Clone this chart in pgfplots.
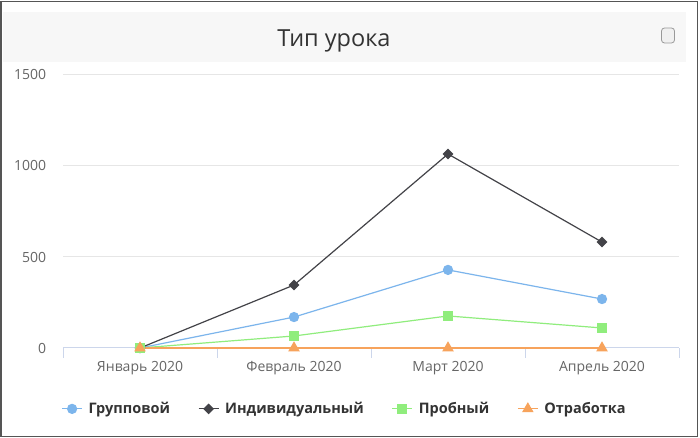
\documentclass[border=0pt]{standalone}
\usepackage{fontspec}
\setmainfont{Open Sans}
\usepackage{pgfplots}
\pgfplotsset{compat=1.18}
\definecolor{cgroup}{HTML}{7CB5EC}
\definecolor{cind}{HTML}{434348}
\definecolor{ctrial}{HTML}{90ED7D}
\definecolor{cotr}{HTML}{F7A35C}
\definecolor{band}{HTML}{F7F7F7}
\definecolor{gridc}{HTML}{E6E6E6}
\definecolor{axc}{HTML}{CCD6EB}
\definecolor{tickc}{HTML}{666666}
\definecolor{titlec}{HTML}{333333}
\definecolor{framec}{HTML}{555555}
\begin{document}
\begin{tikzpicture}[x=1bp,y=1bp]
\useasboundingbox (0,0) rectangle (700,438);
\fill[white] (0,0) rectangle (700,438);
\fill[band] (3,376) rectangle (686,426);
\draw[framec, line width=1.2bp] (1,1.5) rectangle (697.5,436.5);
\node[text=titlec, font=\fontsize{23.5bp}{26bp}\selectfont] at (334,397.5) {Тип урока};
\draw[rounded corners=3bp, draw=gray!80, fill=gray!12, line width=0.8bp] (661.5,395) rectangle (674.5,410);
\begin{axis}[
  at={(63bp,90bp)}, anchor=south west,
  scale only axis, width=616bp, height=273bp,
  xmin=-0.5, xmax=3.5, ymin=0, ymax=1500,
  axis lines*=left,
  x axis line style={-, draw=axc, line width=1bp},
  y axis line style={draw=none},
  xtick={0,1,2,3},
  xticklabels={Январь 2020, Февраль 2020, Март 2020, Апрель 2020},
  minor xtick={-0.5,0.5,1.5,2.5,3.5},
  tick align=outside,
  major x tick style={draw=none},
  minor x tick style={draw=axc, line width=1bp},
  minor tick length=10bp,
  ytick={0,500,1000,1500},
  major y tick style={draw=none},
  ymajorgrids,
  grid style={draw=gridc, line width=1bp},
  tick label style={text=tickc, font=\fontsize{14bp}{16bp}\selectfont},
  xticklabel style={yshift=-6bp},
  yticklabel style={xshift=-9bp},
  /pgf/number format/assume math mode=true,
  /pgf/number format/1000 sep={},
  clip=false,
  legend columns=4,
  legend image code/.code={\draw[mark repeat=2, mark phase=2] plot coordinates {(0bp,0bp) (10bp,0bp) (20bp,0bp)};},
  legend style={draw=none, fill=none, at={(0.457,-0.223)}, anchor=center,
    font=\bfseries\fontsize{14.5bp}{16bp}\selectfont, text=titlec,
    /tikz/every odd column/.append style={column sep=4bp},
    /tikz/every even column/.append style={column sep=26bp}},
]
\addplot[cgroup, line width=1.2bp, mark=*, mark size=4.5bp, mark options={solid, fill=cgroup, draw=cgroup}]
  coordinates {(0,0) (1,170) (2,429) (3,269)};
\addlegendentry{Групповой}
\addplot[cind, line width=1.2bp, mark=square*, mark size=3.2bp, mark options={solid, rotate=45, fill=cind, draw=cind}]
  coordinates {(0,0) (1,346) (2,1066) (3,582)};
\addlegendentry{Индивидуальный}
\addplot[ctrial, line width=1.2bp, mark=square*, mark size=4.5bp, mark options={solid, fill=ctrial, draw=ctrial}]
  coordinates {(0,0) (1,66) (2,176) (3,110)};
\addlegendentry{Пробный}
\addplot[cotr, line width=1.2bp, mark=triangle*, mark size=5.5bp, mark options={solid, fill=cotr, draw=cotr}]
  coordinates {(0,0) (1,0) (2,0) (3,0)};
\addlegendentry{Отработка}
\end{axis}
\end{tikzpicture}
\end{document}
